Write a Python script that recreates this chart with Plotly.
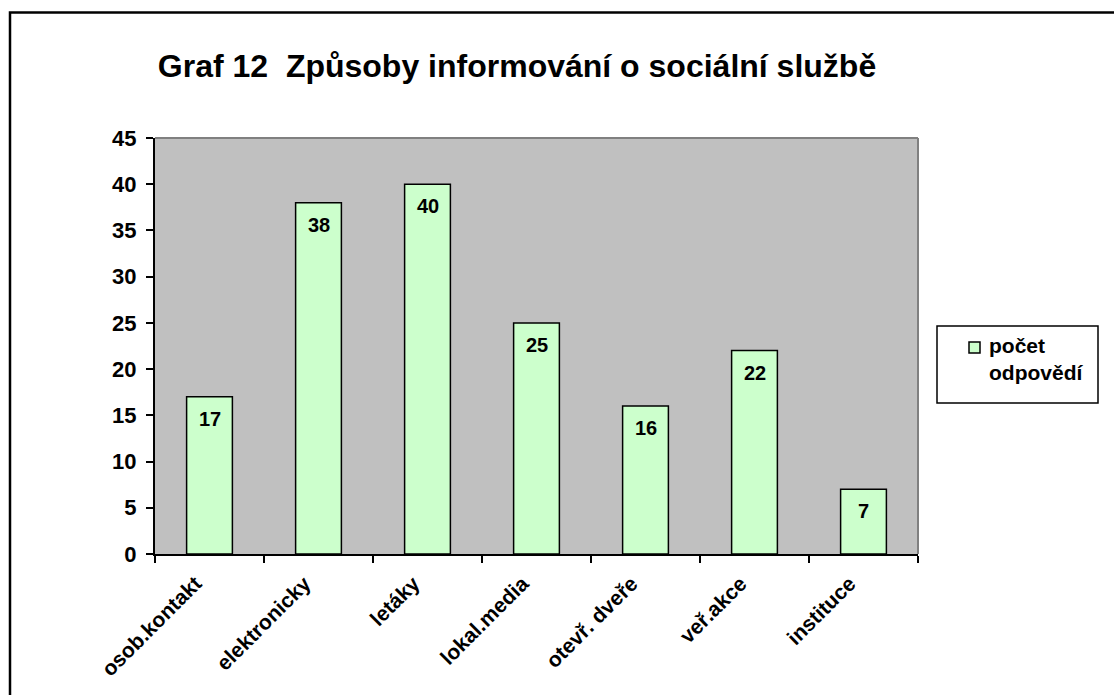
import plotly.graph_objects as go

# Survey: how people learn about the social service
categories = ["osob.kontakt", "elektronicky", "letáky", "lokal.media",
              "otevř. dveře", "veř.akce", "instituce"]
counts = [17, 38, 40, 25, 16, 22, 7]
series_name = "počet<br>odpovědí"
title_text = "Graf 12  Způsoby informování o sociální službě"
y_ticks = list(range(0, 50, 5))

FONT = "Liberation Sans, Arial, sans-serif"
BAR_FILL = "#CCFFCC"

W, H = 1114, 695
L, R, T, B = 155, 196, 138, 141
pw, ph = W - L - R, H - T - B


def px_x(px):
    return (px - L) / pw


def px_y(py):
    return (H - B - py) / ph


def bold(size):
    return dict(family=FONT, size=size, color="black", weight="bold")


fig = go.Figure()
fig.add_trace(go.Bar(
    x=categories, y=counts, name=series_name,
    marker=dict(color=BAR_FILL, line=dict(color="black", width=1.5)),
    width=0.42, showlegend=False, hoverinfo="x+y",
))

# value labels just below each bar top
for cat, v in zip(categories, counts):
    fig.add_annotation(x=cat, y=v, text=str(v), showarrow=False,
                       yshift=-22, font=bold(20))

shapes = [
    # outer frame of the chart
    dict(type="rect", xref="paper", yref="paper",
         x0=px_x(10), x1=px_x(1116), y0=px_y(700), y1=px_y(12.5),
         line=dict(color="black", width=2.5), fillcolor="rgba(0,0,0,0)"),
    # plot area frame (grey top/right edges)
    dict(type="line", xref="paper", yref="paper", x0=0, x1=1, y0=1, y1=1,
         line=dict(color="#808080", width=2)),
    dict(type="line", xref="paper", yref="paper", x0=1, x1=1, y0=0, y1=1,
         line=dict(color="#808080", width=2)),
    # legend box and swatch
    dict(type="rect", xref="paper", yref="paper",
         x0=px_x(937), x1=px_x(1098), y0=px_y(403), y1=px_y(326),
         line=dict(color="black", width=1.5), fillcolor="white"),
    dict(type="rect", xref="paper", yref="paper",
         x0=px_x(969), x1=px_x(980), y0=px_y(353), y1=px_y(342),
         line=dict(color="black", width=1.5), fillcolor=BAR_FILL),
]

fig.add_annotation(xref="paper", yref="paper", x=px_x(987), y=px_y(332),
                   xanchor="left", yanchor="top", align="left",
                   text=series_name, showarrow=False, font=bold(21))

fig.update_layout(
    width=W, height=H,
    margin=dict(l=L, r=R, t=T, b=B, pad=0),
    paper_bgcolor="white", plot_bgcolor="#C0C0C0",
    title=dict(text=title_text, x=517 / W, xanchor="center",
               y=1 - 66 / H, yanchor="middle", font=bold(32)),
    shapes=shapes,
    bargap=0.58,
    showlegend=False,
)

fig.update_xaxes(
    showgrid=False, showline=True, linecolor="black", linewidth=2,
    ticks="outside", ticklen=7, tickcolor="black", tickwidth=2,
    tickson="boundaries", tickangle=-45,
    tickfont=bold(21), ticklabelstandoff=7, ticklabelshift=-14,
)
fig.update_yaxes(
    range=[0, 45], tickvals=y_ticks, showgrid=False, zeroline=False,
    showline=True, linecolor="black", linewidth=2,
    ticks="outside", ticklen=7, tickcolor="black", tickwidth=2,
    tickfont=bold(22), ticklabelstandoff=5,
)

fig.write_html("out.html")
